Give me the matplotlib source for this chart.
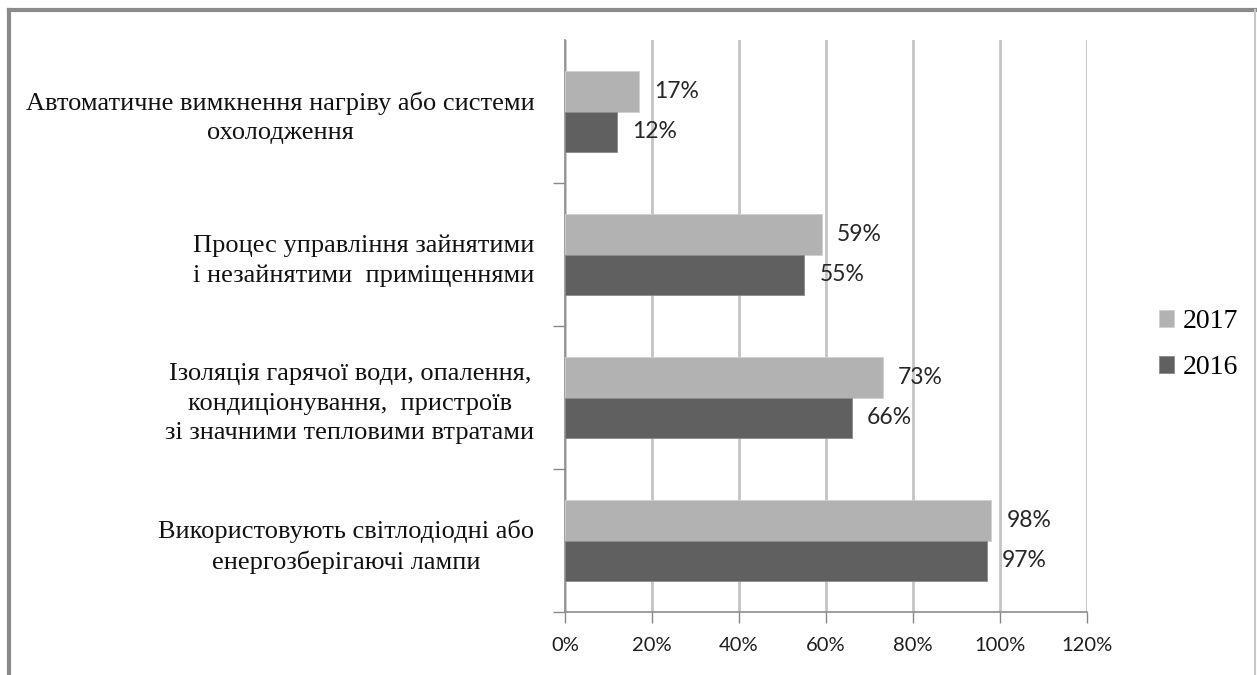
import matplotlib
matplotlib.use('Agg')
import matplotlib.pyplot as plt
from matplotlib.lines import Line2D
import numpy as np

# категорії знизу вгору
categories = [
    'Використовують світлодіодні або\nенергозберігаючі лампи',
    'Ізоляція гарячої води, опалення,\nкондиціонування,  пристроїв\nзі значними тепловими втратами',
    'Процес управління зайнятими\nі незайнятими  приміщеннями',
    'Автоматичне вимкнення нагріву або системи\nохолодження',
]
years = ['2017', '2016']
vals_2017 = [98, 73, 59, 17]
vals_2016 = [97, 66, 55, 12]
x_ticks = [0, 20, 40, 60, 80, 100, 120]

c_2017 = '#b2b2b2'
c_2016 = '#606060'

fig = plt.figure(figsize=(12.57, 6.75), dpi=100)
ax = fig.add_axes([0.4495, 0.0933, 0.4153, 0.8474])

y = np.arange(len(categories))
h = 0.28
b17 = ax.barh(y + h / 2, vals_2017, height=h, color=c_2017, edgecolor='#d0d0d0',
              linewidth=0.6, label=years[0], zorder=3)
b16 = ax.barh(y - h / 2, vals_2016, height=h, color=c_2016, edgecolor='#8a8a8a',
              linewidth=0.6, label=years[1], zorder=3)

# підписи значень
for bars, vals in ((b17, vals_2017), (b16, vals_2016)):
    for bar, v in zip(bars, vals):
        ax.annotate(f'{v}%', (v, bar.get_y() + bar.get_height() / 2),
                    xytext=(15, 0), textcoords='offset pixels',
                    ha='left', va='center', fontsize=16.5, family='Lato',
                    color='#262626')

ax.set_xlim(0, 120)
ax.set_ylim(-0.5, len(categories) - 0.5)
ax.set_xticks(x_ticks)
ax.set_xticklabels([f'{t}%' for t in x_ticks], family='Lato', fontsize=14.5,
                   color='#1e1e1e')
ax.tick_params(axis='x', length=8, width=1, color='#888888', pad=10)

# мітки категорій та поділки між групами
ax.set_yticks(np.arange(-0.5, len(categories) - 1, 1.0))
ax.set_yticklabels([])
ax.tick_params(axis='y', which='major', length=9, width=1, color='#888888')
ax.set_yticks(y, minor=True)
ax.set_yticklabels(categories, minor=True, family='Liberation Serif',
                   fontsize=19, color='#111111', multialignment='center',
                   linespacing=1.42)
ax.tick_params(axis='y', which='minor', length=0, pad=22)

ax.grid(axis='x', color='#c4c4c4', linewidth=2, zorder=0)
ax.set_axisbelow(True)
for s in ('top', 'right'):
    ax.spines[s].set_visible(False)
ax.spines['left'].set_color('#8c8c8c')
ax.spines['bottom'].set_color('#8c8c8c')
ax.spines['left'].set_linewidth(1.2)
ax.spines['bottom'].set_linewidth(1.2)

leg = ax.legend(loc='center left', bbox_to_anchor=(1.09, 0.467), frameon=False,
                handlelength=0.55, handleheight=0.55, handletextpad=0.3,
                labelspacing=0.75, prop={'family': 'Liberation Serif', 'size': 20})

# рамка
fig.add_artist(Line2D([0.0072, 0.0072], [0.0, 0.985], transform=fig.transFigure,
                      color='#8a8a8a', linewidth=3))
fig.add_artist(Line2D([0.0072, 0.9985], [0.985, 0.985], transform=fig.transFigure,
                      color='#8a8a8a', linewidth=3))
fig.add_artist(Line2D([0.9985, 0.9985], [0.0, 0.985], transform=fig.transFigure,
                      color='#c8c8c8', linewidth=1.5))

fig.savefig('out.png', dpi=100)
